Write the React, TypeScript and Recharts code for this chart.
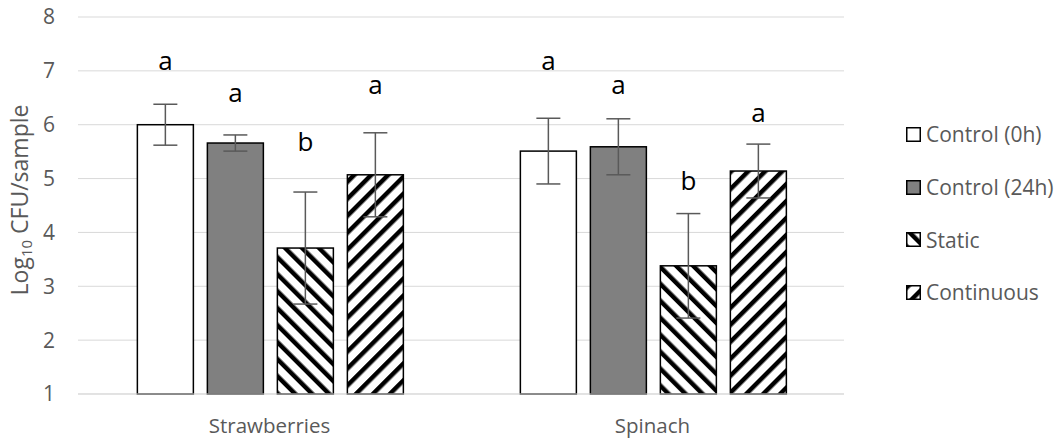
import React from 'react';
import { BarChart, Bar, XAxis, YAxis, CartesianGrid, ErrorBar } from 'recharts';

const categories = ['Strawberries', 'Spinach'];
const control0 = [6.0, 5.51];
const control0Err = [0.38, 0.61];
const control24 = [5.66, 5.59];
const control24Err = [0.15, 0.52];
const staticVals = [3.71, 3.38];
const staticErr = [1.04, 0.97];
const continuous = [5.07, 5.14];
const continuousErr = [0.78, 0.5];
const letters0 = ['a', 'a'];
const letters24 = ['a', 'a'];
const lettersStatic = ['b', 'b'];
const lettersCont = ['a', 'a'];
const letterPos0 = [7.18, 7.18];
const letterPos24 = [6.58, 6.73];
const letterPosStatic = [5.68, 4.94];
const letterPosCont = [6.73, 6.21];
const yTicks = [1, 2, 3, 4, 5, 6, 7, 8];

const seriesNames = ['Control (0h)', 'Control (24h)', 'Static', 'Continuous'];
const seriesFills = ['#ffffff', '#808080', 'url(#patStatic)', 'url(#patCont)'];

const data = categories.map((c, i) => ({
  name: c,
  c0: control0[i], c0e: control0Err[i], c0l: letters0[i], c0p: letterPos0[i],
  c24: control24[i], c24e: control24Err[i], c24l: letters24[i], c24p: letterPos24[i],
  st: staticVals[i], ste: staticErr[i], stl: lettersStatic[i], stp: letterPosStatic[i],
  co: continuous[i], coe: continuousErr[i], col: lettersCont[i], cop: letterPosCont[i],
}));

const FONT = "'Open Sans', 'Noto Sans', sans-serif";
const GRAY = '#595959';

function makeShape(key: string) {
  return (p: any) => {
    const { x, y, width, height, fill, payload } = p;
    const v = payload[key];
    const ly = payload[key + 'p'];
    const letter = payload[key + 'l'];
    const base = y + height;
    const perUnit = height / (v - 1);
    const lyPx = base - (ly - 1) * perUnit;
    return (
      <g>
        <rect x={x} y={y} width={width} height={height} fill={fill} stroke="#000" strokeWidth={1.5} />
        <text x={x + width / 2} y={lyPx} dy="0.33em" textAnchor="middle" fontSize={26} fontFamily={FONT} fill="#000">
          {letter}
        </text>
      </g>
    );
  };
}

const LegendBox = () => (
  <div style={{ position: 'absolute', left: 906, top: 108, fontFamily: FONT, fontSize: 21, color: GRAY, whiteSpace: 'nowrap' }}>
    {seriesNames.map((n, i) => (
      <div key={n} style={{ display: 'flex', alignItems: 'center', height: 52.7 }}>
        <svg width={15} height={15} style={{ marginRight: 5 }}>
          <rect x={0.75} y={0.75} width={13.5} height={13.5} fill={seriesFills[i]} stroke="#000" strokeWidth={1.5} />
        </svg>
        <span>{n}</span>
      </div>
    ))}
  </div>
);

const YLabel = () => {
  const cx = 27.5;
  const cy = 200;
  return (
    <text x={cx} y={cy} transform={`rotate(-90, ${cx}, ${cy})`} textAnchor="middle" fontSize={23} fontFamily={FONT} fill={GRAY}>
      Log<tspan fontSize={15} dy={4}>10</tspan><tspan dy={-4}> CFU/sample</tspan>
    </text>
  );
};

export default function App() {
  return (
    <div style={{ position: 'absolute', left: 0, top: 0, width: 1062, height: 443, background: '#fff' }}>
      <BarChart width={1062} height={443} data={data} margin={{ top: 17, right: 218, bottom: 0, left: 0 }} barCategoryGap="15.5%" barGap={14}>
        <defs>
          <pattern id="patStatic" patternUnits="userSpaceOnUse" width={12} height={12} patternTransform="rotate(-45)">
            <rect x={0} y={0} width={12} height={12} fill="#fff" />
            <rect x={0} y={0} width={4.5} height={12} fill="#000" />
          </pattern>
          <pattern id="patCont" patternUnits="userSpaceOnUse" width={12} height={12} patternTransform="rotate(45)">
            <rect x={0} y={0} width={12} height={12} fill="#fff" />
            <rect x={0} y={0} width={4.5} height={12} fill="#000" />
          </pattern>
        </defs>
        <CartesianGrid vertical={false} stroke="#d9d9d9" strokeWidth={1} />
        <XAxis dataKey="name" tickLine={false} axisLine={{ stroke: '#d9d9d9' }} height={49} tickMargin={18}
          tick={{ fontSize: 20.5, fontFamily: FONT, fill: GRAY }} />
        <YAxis domain={[1, 8]} ticks={yTicks} width={78} axisLine={false} tickLine={false} tickMargin={17}
          tick={{ fontSize: 21, fontFamily: FONT, fill: GRAY }} label={<YLabel />} />
        <Bar dataKey="c0" name={seriesNames[0]} fill={seriesFills[0]} isAnimationActive={false} shape={makeShape('c0')}>
          <ErrorBar dataKey="c0e" width={12} stroke={GRAY} strokeWidth={1.5} />
        </Bar>
        <Bar dataKey="c24" name={seriesNames[1]} fill={seriesFills[1]} isAnimationActive={false} shape={makeShape('c24')}>
          <ErrorBar dataKey="c24e" width={12} stroke={GRAY} strokeWidth={1.5} />
        </Bar>
        <Bar dataKey="st" name={seriesNames[2]} fill={seriesFills[2]} isAnimationActive={false} shape={makeShape('st')}>
          <ErrorBar dataKey="ste" width={12} stroke={GRAY} strokeWidth={1.5} />
        </Bar>
        <Bar dataKey="co" name={seriesNames[3]} fill={seriesFills[3]} isAnimationActive={false} shape={makeShape('co')}>
          <ErrorBar dataKey="coe" width={12} stroke={GRAY} strokeWidth={1.5} />
        </Bar>
      </BarChart>
      <LegendBox />
    </div>
  );
}
